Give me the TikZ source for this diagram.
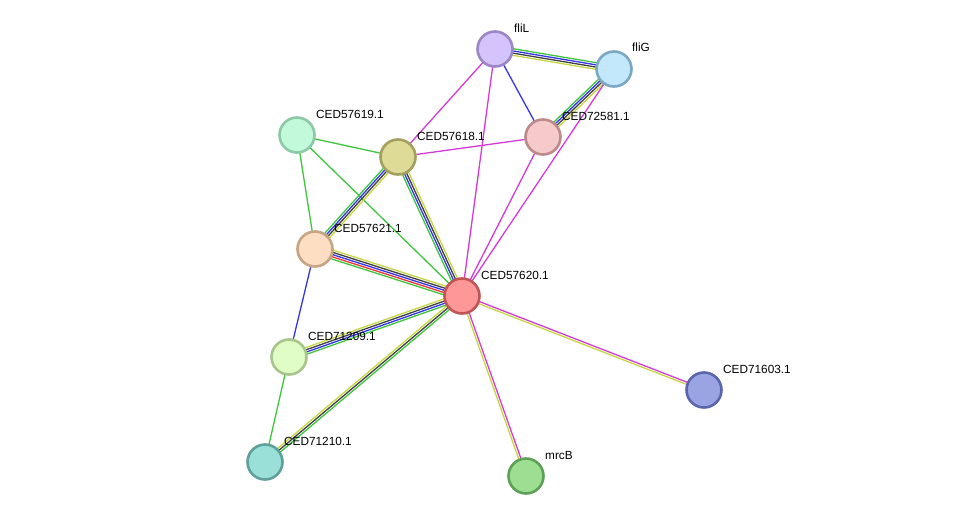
\documentclass[tikz,border=0pt]{standalone}
\usepackage{fontspec}
\setmainfont{Liberation Sans}
\usepackage{tikz}
\usetikzlibrary{calc, positioning}

\definecolor{clgreen}{HTML}{3DC63D}
\definecolor{clblue}{HTML}{3434F0}
\definecolor{clblack}{HTML}{404040}
\definecolor{clyellow}{HTML}{C6D640}
\definecolor{clmag}{HTML}{D43AD4}
\definecolor{clred}{HTML}{F03434}

% node colours: fill / border
\definecolor{fliLfill}{HTML}{D5C4FB}\definecolor{fliLdraw}{HTML}{9C86C6}
\definecolor{fliGfill}{HTML}{C3E7FB}\definecolor{fliGdraw}{HTML}{7CA8C4}
\definecolor{p19fill}{HTML}{C2F9DA}\definecolor{p19draw}{HTML}{8DC9A6}
\definecolor{p18fill}{HTML}{DEDB97}\definecolor{p18draw}{HTML}{A4A060}
\definecolor{p81fill}{HTML}{F6CACB}\definecolor{p81draw}{HTML}{BC8A8A}
\definecolor{p21fill}{HTML}{FDDEC2}\definecolor{p21draw}{HTML}{C6A584}
\definecolor{p20fill}{HTML}{FE9797}\definecolor{p20draw}{HTML}{C05555}
\definecolor{p09fill}{HTML}{E0FDC6}\definecolor{p09draw}{HTML}{A9C58C}
\definecolor{p03fill}{HTML}{9AA4E2}\definecolor{p03draw}{HTML}{5A66AC}
\definecolor{p10fill}{HTML}{9AE0D8}\definecolor{p10draw}{HTML}{5FA19A}
\definecolor{mrcBfill}{HTML}{9DDE92}\definecolor{mrcBdraw}{HTML}{5EA057}

\pgfdeclarelayer{background}
\pgfsetlayers{background,main}

\tikzset{
  prot/.style={circle, draw=#1draw, fill=#1fill, line width=2.6pt, minimum size=35pt, inner sep=0pt},
  lbl/.style={anchor=west, inner sep=0pt, font=\fontsize{11.8}{14}\selectfont},
  edge/.style={line width=1.3pt}
}

% multi-coloured evidence link between two proteins
\newcommand{\ppilink}[3]{%
  \def\nlines{0}%
  \foreach \c in {#3} {\pgfmathtruncatemacro\tmp{\nlines+1}\global\let\nlines\tmp}%
  \foreach \c [count=\i] in {#3} {%
    \pgfmathsetmacro\off{((\nlines+1)/2-\i)*2.2}%
    \draw[\c, edge] ($(#1)!\off pt!90:(#2)$) -- ($(#2)!\off pt!-90:(#1)$);
  }%
}

\begin{document}
\begin{tikzpicture}[x=1pt, y=-1pt]
		\useasboundingbox (0,0) rectangle (975,522);
		
		% --- Proteines ---
		\node[prot=fliL] (fliL) at (495,49) {};
		\node[prot=fliG] (fliG) at (614,69) {};
		\node[prot=p19] (c57619) at (297,135) {};
		\node[prot=p18] (c57618) at (398,157) {};
		\node[prot=p81] (c72581) at (543,137) {};
		\node[prot=p21] (c57621) at (315,249) {};
		\node[prot=p20] (c57620) at (462,296) {};
		\node[prot=p09] (c71209) at (289,357) {};
		\node[prot=p03] (c71603) at (704,390) {};
		\node[prot=p10] (c71210) at (265,462) {};
		\node[prot=mrcB] (mrcB) at (526,476) {};
		
		% --- Etiquettes ---
		\node[lbl] (fliL-t) at ([shift={(19,-21)}]fliL.center) {fliL};
		\node[lbl] (fliG-t) at ([shift={(18,-22)}]fliG.center) {fliG};
		\node[lbl] (c57619-t) at ([shift={(19,-21)}]c57619.center) {CED57619.1};
		\node[lbl] (c57618-t) at ([shift={(19,-21)}]c57618.center) {CED57618.1};
		\node[lbl] (c72581-t) at ([shift={(19,-21)}]c72581.center) {CED72581.1};
		\node[lbl] (c57621-t) at ([shift={(19,-21)}]c57621.center) {CED57621.1};
		\node[lbl] (c57620-t) at ([shift={(19,-21)}]c57620.center) {CED57620.1};
		\node[lbl] (c71209-t) at ([shift={(19,-21)}]c71209.center) {CED71209.1};
		\node[lbl] (c71603-t) at ([shift={(19,-21)}]c71603.center) {CED71603.1};
		\node[lbl] (c71210-t) at ([shift={(19,-21)}]c71210.center) {CED71210.1};
		\node[lbl] (mrcB-t) at ([shift={(19,-21)}]mrcB.center) {mrcB};
		
		% --- Liens (sous les noeuds) ---
		\begin{pgfonlayer}{background}
			\ppilink{fliL}{fliG}{clgreen,clblue,clblack,clyellow}
			\ppilink{fliG}{c72581}{clyellow,clblack,clblue,clgreen}
			\ppilink{fliL}{c72581}{clblue}
			\ppilink{fliL}{c57618}{clmag}
			\ppilink{fliL}{c57620}{clmag}
			\ppilink{c57618}{c72581}{clmag}
			\ppilink{c72581}{c57620}{clmag}
			\ppilink{fliG}{c57620}{clmag}
			\ppilink{c57619}{c57618}{clgreen}
			\ppilink{c57619}{c57621}{clgreen}
			\ppilink{c57619}{c57620}{clgreen}
			\ppilink{c57618}{c57621}{clyellow,clblack,clblue,clgreen}
			\ppilink{c57618}{c57620}{clyellow,clblack,clblue,clgreen}
			\ppilink{c57621}{c57620}{clyellow,clblack,clblue,clred,clgreen}
			\ppilink{c57621}{c71209}{clblue}
			\ppilink{c71209}{c57620}{clyellow,clblack,clblue,clgreen}
			\ppilink{c71209}{c71210}{clgreen}
			\ppilink{c71210}{c57620}{clyellow,clblack,clgreen}
			\ppilink{c57620}{mrcB}{clmag,clyellow}
			\ppilink{c57620}{c71603}{clmag,clyellow}
		\end{pgfonlayer}
		
	\end{tikzpicture}
\end{document}
